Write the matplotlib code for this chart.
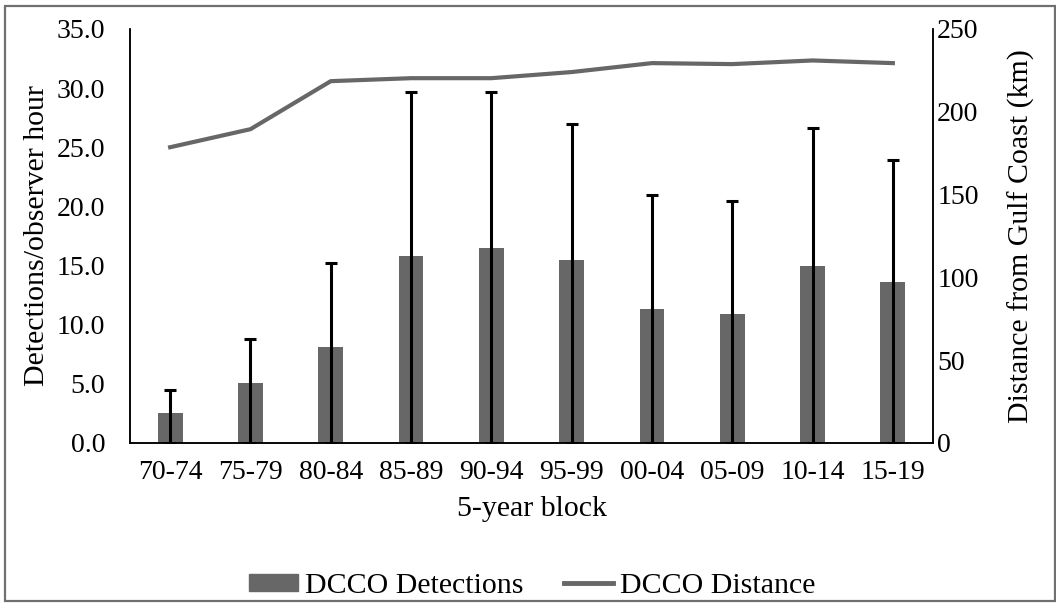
import matplotlib
matplotlib.use("Agg")
import matplotlib.pyplot as plt
import matplotlib.patches as mpatches
from matplotlib.lines import Line2D
import numpy as np

plt.rcParams["font.family"] = ["Liberation Serif", "DejaVu Serif"]

blocks = ["70-74", "75-79", "80-84", "85-89", "90-94",
          "95-99", "00-04", "05-09", "10-14", "15-19"]
detections = [2.5, 5.1, 8.1, 15.8, 16.5, 15.5, 11.3, 10.9, 15.0, 13.6]
det_upper = [4.5, 8.8, 15.2, 29.7, 29.7, 27.0, 21.0, 20.5, 26.6, 23.9]
distance = [178.6, 189.5, 218.5, 220.3, 220.3, 224.0, 229.4, 228.8, 231.0, 229.4]

GREY = "#676767"
W, H = 1056, 603

fig = plt.figure(figsize=(W / 100, H / 100), dpi=100)
ax = fig.add_axes([130 / W, 1 - 443 / H, 803 / W, 414 / H])
ax2 = ax.twinx()

x = np.arange(len(blocks))
det = np.array(detections)
err_hi = np.array(det_upper) - det
ax.bar(x, det, width=0.31, color=GREY, zorder=2)
# error bars run from zero up to mean + sd
ax.errorbar(x, det, yerr=[det, err_hi], fmt="none", ecolor="black",
            elinewidth=2.2, capsize=4.5, capthick=2.2, zorder=3)

ax2.plot(x, distance, color=GREY, linewidth=3.0, zorder=4)

ax.set_xlim(-0.5, len(blocks) - 0.5)
ax.set_ylim(0, 35)
yt = np.arange(0, 35.1, 5)
ax.set_yticks(yt)
ax.set_yticklabels([f"{v:.1f}" for v in yt])
ax2.set_ylim(0, 250)
ax2.set_yticks(range(0, 251, 50))

ax.set_xticks(x)
ax.set_xticklabels(blocks)

for a in (ax, ax2):
    a.spines["top"].set_visible(False)
    a.tick_params(length=0, labelsize=20)
    for s in ("left", "right", "bottom"):
        a.spines[s].set_linewidth(1.1)
ax.tick_params(axis="y", pad=18)
ax.tick_params(axis="x", pad=12)
ax2.tick_params(axis="y", pad=3)
ax.set_zorder(ax2.get_zorder() - 1)
ax.patch.set_visible(False)

ax.set_xlabel("5-year block", fontsize=21.5, labelpad=8)
ax.set_ylabel("Detections/observer hour", fontsize=21.5, labelpad=5)
ax2.set_ylabel("Distance from Gulf Coast (km)", fontsize=21.5, labelpad=21)

handles = [mpatches.Patch(color=GREY, label="DCCO Detections"),
           Line2D([], [], color=GREY, linewidth=3.5, label="DCCO Distance")]
fig.legend(handles=handles, loc="center", bbox_to_anchor=(532 / W, 1 - 586 / H),
           ncol=2, frameon=False, fontsize=21.5, handlelength=1.65,
           handleheight=0.5, handletextpad=0.23, columnspacing=1.35)

fig.patches.append(mpatches.Rectangle((5 / W, 2 / H), 1050 / W, 595 / H,
                                      transform=fig.transFigure, fill=False,
                                      edgecolor="#707070", linewidth=1.6))

fig.savefig("out.png", dpi=100)
